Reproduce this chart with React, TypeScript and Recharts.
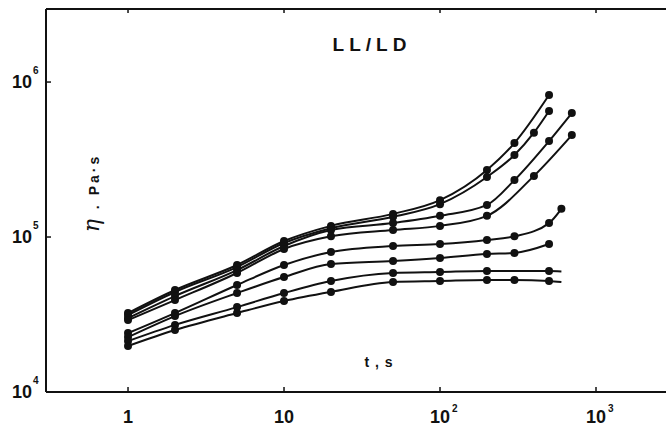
import { Line, LineChart, XAxis, YAxis } from "recharts";

const INK = "#111";
const FONT = "'Liberation Sans', Arial, Helvetica, sans-serif";

// t (s) vs apparent viscosity η (Pa·s). Curves listed top to bottom at the right end.
const T1 = [1, 2, 5, 10, 20, 50, 100, 200, 300, 500];
const ETA1 = [32300, 45500, 66000, 94200, 118000, 141000, 173000, 271000, 404000, 824000];

const T2 = [1, 2, 5, 10, 20, 50, 100, 200, 300, 400, 500];
const ETA2 = [31400, 44200, 64000, 91500, 114000, 135000, 163000, 244000, 338000, 471000, 650000];

const T3 = [1, 2, 5, 10, 20, 50, 100, 200, 300, 500, 700];
const ETA3 = [30000, 41600, 61200, 87500, 111000, 123000, 137000, 161000, 233000, 416000, 631000];

const T4 = [1, 2, 5, 10, 20, 50, 100, 200, 400, 700];
const ETA4 = [29100, 39200, 58600, 83700, 101000, 111000, 118000, 137000, 248000, 455000];

const T5 = [1, 2, 5, 10, 20, 50, 100, 200, 300, 500, 600];
const ETA5 = [24000, 32300, 49000, 66000, 80000, 87500, 90100, 95700, 101000, 123000, 152000];

const T6 = [1, 2, 5, 10, 20, 50, 100, 200, 300, 500];
const ETA6 = [22600, 30900, 43500, 55200, 67000, 70000, 73200, 77700, 78900, 90100];

const T7 = [1, 2, 5, 10, 20, 50, 100, 200, 500];
const ETA7 = [21300, 27100, 35300, 43500, 52000, 58600, 59500, 60400, 60400];
// the drawn line runs on a little past the last measured point
const T7_TAIL = [600];
const ETA7_TAIL = [60000];

const T8 = [1, 2, 5, 10, 20, 50, 100, 200, 300, 500];
const ETA8 = [19800, 25100, 32300, 38600, 44200, 51200, 52000, 52800, 52800, 52000];
const T8_TAIL = [600];
const ETA8_TAIL = [51200];

const X_TICKS = [1, 10, 100, 1000];
const Y_TICKS = [1e4, 1e5, 1e6];
const X_DOMAIN: [number, number] = [0.298, 2810];
const Y_DOMAIN: [number, number] = [1e4, 2.96e6];

type Pt = { t: number; v: number; m: boolean };

function build(ts: number[], vs: number[], tailT: number[] = [], tailV: number[] = []): Pt[] {
  const pts = ts.map((t, i) => ({ t, v: vs[i], m: true }));
  return pts.concat(tailT.map((t, i) => ({ t, v: tailV[i], m: false })));
}

const CURVES: Pt[][] = [
  build(T1, ETA1),
  build(T2, ETA2),
  build(T3, ETA3),
  build(T4, ETA4),
  build(T5, ETA5),
  build(T6, ETA6),
  build(T7, ETA7, T7_TAIL, ETA7_TAIL),
  build(T8, ETA8, T8_TAIL, ETA8_TAIL),
];

function Marker(props: any) {
  const { cx, cy, payload, index } = props;
  if (!payload?.m || cx == null || cy == null) return <g key={index} />;
  return <circle key={index} cx={cx} cy={cy} r={4} fill={INK} />;
}

function YTick({ x, y, payload }: any) {
  const exp = Math.round(Math.log10(payload.value));
  return (
    <g>
      {exp > 4 && <line x1={x} x2={x + 5} y1={y} y2={y} stroke={INK} strokeWidth={1.5} />}
      <text x={x - 14} y={y + 6} textAnchor="end" fontSize={18} fontWeight="bold" fill={INK} fontFamily={FONT}>
        10
      </text>
      <text x={x - 13} y={y - 8} fontSize={10} fontWeight="bold" fill={INK} fontFamily={FONT}>
        {exp}
      </text>
    </g>
  );
}

function XTick({ x, y, payload }: any) {
  const exp = Math.round(Math.log10(payload.value));
  const base = exp === 0 ? "1" : "10";
  return (
    <g>
      <line x1={x} x2={x} y1={y} y2={y - 5} stroke={INK} strokeWidth={1.5} />
      <text x={x} y={y + 31} textAnchor="middle" fontSize={18} fontWeight="bold" fill={INK} fontFamily={FONT}>
        {base}
      </text>
      {exp > 1 && (
        <text x={x + 12} y={y + 20} fontSize={10} fontWeight="bold" fill={INK} fontFamily={FONT}>
          {exp}
        </text>
      )}
    </g>
  );
}

function TopTick({ x, y }: any) {
  return <line x1={x} x2={x} y1={y} y2={y + 4} stroke={INK} strokeWidth={1.5} />;
}

const axisLine = { stroke: INK, strokeWidth: 2 };

export default function App() {
  return (
    <div style={{ position: "absolute", left: 0, top: 0, width: 666, height: 426, background: "#fff" }}>
      <LineChart width={666} height={426} margin={{ top: 0, right: 0, bottom: 0, left: 0 }}>
        <XAxis
          dataKey="t"
          type="number"
          scale="log"
          domain={X_DOMAIN}
          allowDataOverflow
          ticks={X_TICKS}
          interval={0}
          height={34}
          tickSize={0}
          tickMargin={0}
          tickLine={false}
          axisLine={axisLine}
          tick={<XTick />}
        />
        <XAxis
          xAxisId="top"
          orientation="top"
          dataKey="t"
          type="number"
          scale="log"
          domain={X_DOMAIN}
          allowDataOverflow
          ticks={X_TICKS}
          interval={0}
          height={9}
          tickSize={0}
          tickMargin={0}
          tickLine={false}
          axisLine={axisLine}
          tick={<TopTick />}
        />
        <YAxis
          type="number"
          scale="log"
          domain={Y_DOMAIN}
          allowDataOverflow
          ticks={Y_TICKS}
          interval={0}
          width={46}
          tickSize={0}
          tickMargin={0}
          tickLine={false}
          axisLine={axisLine}
          tick={<YTick />}
        />
        {CURVES.map((data, i) => (
          <Line
            key={i}
            data={data}
            dataKey="v"
            type="monotone"
            stroke={INK}
            strokeWidth={2}
            dot={Marker}
            activeDot={false}
            isAnimationActive={false}
          />
        ))}
      </LineChart>
      <div
        style={{
          position: "absolute",
          left: 372,
          top: 45,
          transform: "translate(-50%, -50%)",
          fontFamily: FONT,
          fontWeight: "bold",
          fontSize: 19,
          letterSpacing: 5,
          color: INK,
          whiteSpace: "nowrap",
        }}
      >
        LL/LD
      </div>
      <div
        style={{
          position: "absolute",
          left: 379,
          top: 362,
          transform: "translate(-50%, -50%)",
          fontFamily: FONT,
          fontWeight: "bold",
          fontSize: 14,
          letterSpacing: 1,
          color: INK,
          whiteSpace: "nowrap",
        }}
      >
        t , s
      </div>
      <div
        style={{
          position: "absolute",
          left: 91,
          top: 193,
          transform: "translate(-50%, -50%) rotate(-90deg)",
          fontFamily: FONT,
          fontWeight: "bold",
          fontSize: 14,
          letterSpacing: 3,
          color: INK,
          whiteSpace: "nowrap",
        }}
      >
        <span style={{ fontFamily: "'DejaVu Serif', serif", fontStyle: "italic", fontWeight: "normal", fontSize: 22 }}>η</span>
        {" . Pa·s"}
      </div>
    </div>
  );
}
